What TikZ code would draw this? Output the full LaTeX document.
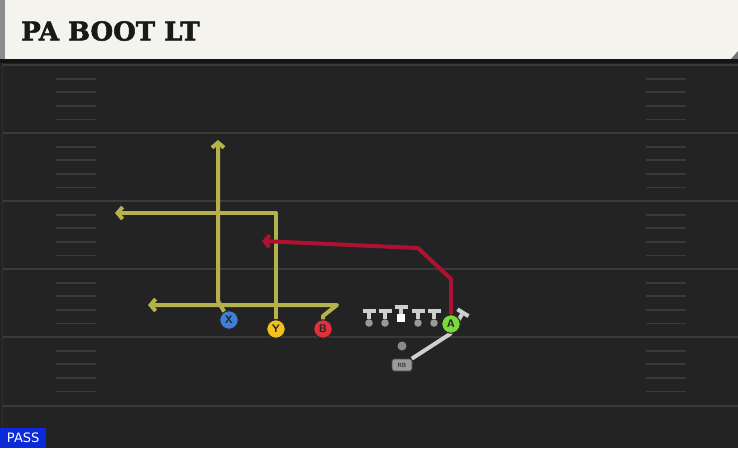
\documentclass[tikz,border=0pt]{standalone}
\usepackage{fontspec}
\newfontfamily\titlefont{DejaVu Serif}[BoldFont={DejaVu Serif Bold}, BoldFeatures={FakeBold=2}]
\newfontfamily\passfont{DejaVu Sans}
\usetikzlibrary{arrows.meta}
\definecolor{field}{HTML}{232323}
\definecolor{yardline}{HTML}{3A3A3A}
\definecolor{titlebg}{HTML}{F5F3EE}
\definecolor{routeyel}{HTML}{B5B14C}
\definecolor{routered}{HTML}{AE1232}
\definecolor{xblue}{HTML}{3D7FD9}
\definecolor{yyellow}{HTML}{F2C21B}
\definecolor{bred}{HTML}{E0303C}
\definecolor{agreen}{HTML}{7CD93A}
\definecolor{linegray}{HTML}{CFCFCF}
\definecolor{dotgray}{HTML}{9A9A9A}
\definecolor{passblue}{HTML}{0B2BD8}

\begin{document}
\begin{tikzpicture}[x=1pt,y=-1pt]
\tikzstyle{every node}+=[inner sep=0pt]
\tikzstyle{player}=[circle, draw=black!85, line width=1pt, minimum size=18.5pt, text=black!85, font=\sffamily\bfseries\fontsize{11}{11}\selectfont]
\tikzstyle{route}=[line width=4pt, line join=round, -{Straight Barb[length=5pt,width=12pt]}]
\tikzstyle{block}=[linegray, line width=4pt, -{Bar[width=13pt,line width=4pt]}]
\tikzstyle{olman}=[circle, fill=dotgray, minimum size=7.5pt]
\useasboundingbox (0,0) rectangle (738,448);
\fill [field] (0,59) rectangle (738,448);
\fill [titlebg] (0,0) rectangle (738,59);
\fill [black!45] (0,0) rectangle (5,59);
\fill [black!55] (731,59) -- (738,51) -- (738,59) -- cycle;
\fill [black!92] (0,59) rectangle (738,63);
\draw [black!82, line width=1pt] (2,63) -- (2,448);
\draw (21,31) node [anchor=west, text=black!90, font=\titlefont\bfseries\fontsize{26}{26}\selectfont] (title) {PA BOOT LT};
\foreach \y in {65,133,201,269,337,406}
  \draw [yardline, line width=2pt] (3,\y) -- (738,\y);
\foreach \y in {65,133,201,269,337}
  \foreach \k in {1,...,4} {
    \draw [yardline, line width=1.8pt] (56,\y+13.6*\k) -- (96,\y+13.6*\k);
    \draw [yardline, line width=1.8pt] (646,\y+13.6*\k) -- (686,\y+13.6*\k);
  }
\node [anchor=south west, fill=passblue, text=white, minimum width=46pt, minimum height=20pt, font=\passfont\fontsize{13}{13}\selectfont] (pass) at (0,448) {PASS};
\node [olman] (LT) at (369,323) {};
\node [olman] (LG) at (385,323) {};
\node [fill=white, minimum size=8.5pt] (C) at (401,318) {};
\node [olman] (RG) at (418,323) {};
\node [olman] (RT) at (434,323) {};
\draw [block] (LT) -- (369,309);
\draw [block] (LG) -- (385,309);
\draw [block] (C) -- (401,305);
\draw [block] (RG) -- (418,309);
\draw [block] (RT) -- (434,309);
\node [circle, fill=dotgray!90!black, minimum size=9pt] (QB) at (402,346) {};
\node [rounded corners=2.5pt, fill=dotgray, draw=black!70, line width=0.7pt, minimum width=20pt, minimum height=12pt, text=black!80, font=\sffamily\bfseries\fontsize{6}{6}\selectfont] (RB) at (402,365) {RB};
\draw [block] (RB) -- (450,334) -- (464,311);
\node [player, fill=xblue] (X) at (229,320) {X};
\node [player, fill=yyellow] (Y) at (276,329) {Y};
\node [player, fill=bred] (B) at (323,329) {B};
\node [player, fill=agreen] (A) at (451,324) {A};
\coordinate (xend) at (218,140);
\coordinate (yend) at (115,213);
\coordinate (bend) at (148,305);
\coordinate (aend) at (262,241);
\draw [route, routeyel] (X) -- (218,301) -- (xend);
\draw [route, routeyel] (Y) -- (276,213) -- (yend);
\draw [route, routeyel] (B) -- (323,316) -- (337,305) -- (bend);
\draw [route, routered] (A) -- (451,279) -- (418,248) -- (aend);
\end{tikzpicture}
\end{document}
